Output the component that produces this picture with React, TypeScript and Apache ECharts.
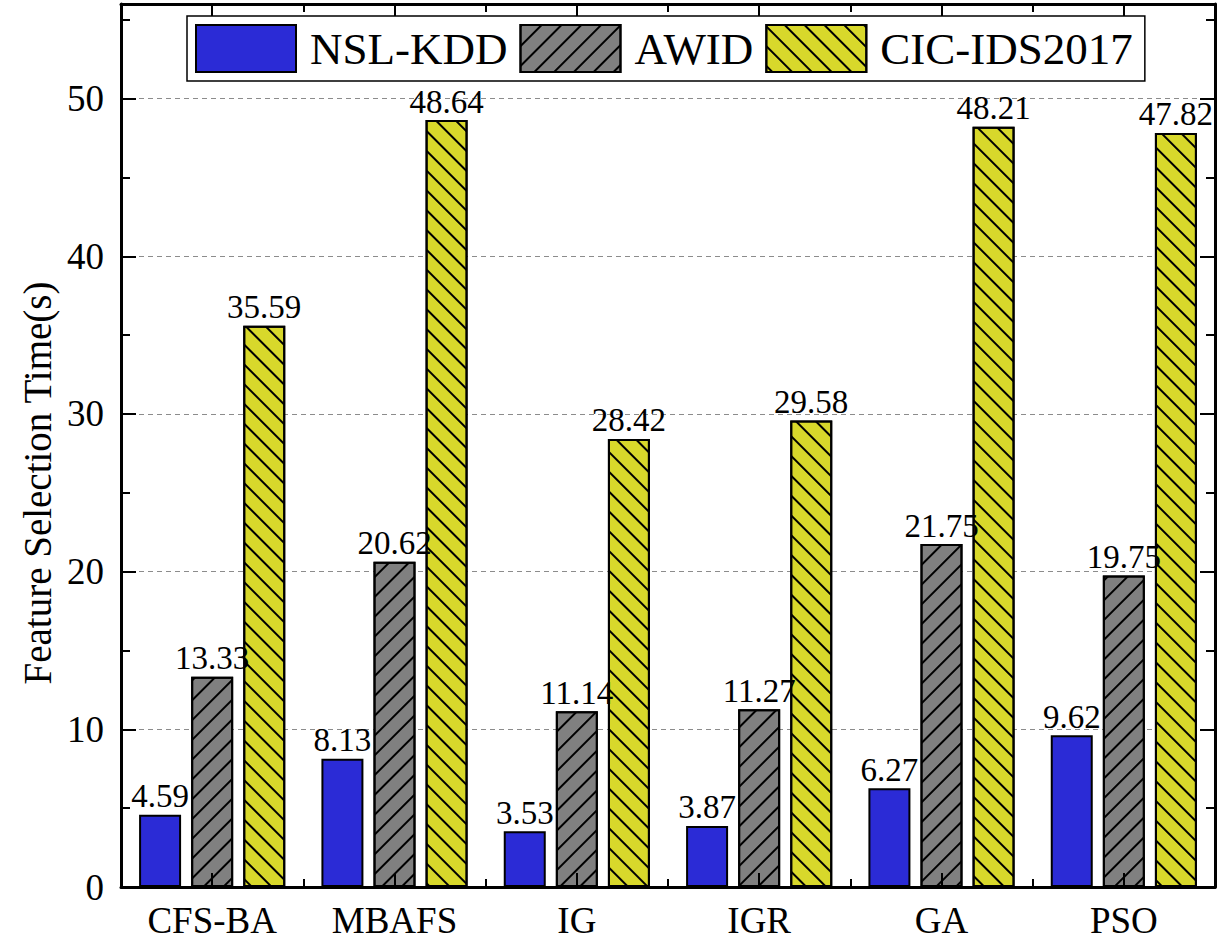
import React, { useEffect, useRef } from "react";
import * as echarts from "echarts";

// Feature selection time per method on three intrusion-detection datasets
const methods = ["CFS-BA", "MBAFS", "IG", "IGR", "GA", "PSO"];
const nslKdd = [4.59, 8.13, 3.53, 3.87, 6.27, 9.62];
const awid = [13.33, 20.62, 11.14, 11.27, 21.75, 19.75];
const cicIds2017 = [35.59, 48.64, 28.42, 29.58, 48.21, 47.82];
const seriesNames = ["NSL-KDD", "AWID", "CIC-IDS2017"];
const yTitle = "Feature Selection Time(s)";

const FONT = '"Liberation Serif", "Times New Roman", serif';

export default function App() {
  const ref = useRef<HTMLDivElement>(null);

  useEffect(() => {
    if (!ref.current) return;
    const chart = echarts.init(ref.current, null, { renderer: "svg" });

    const labelStyle = {
      show: true,
      position: "top" as const,
      distance: 2,
      fontSize: 33,
      fontFamily: FONT,
      color: "#000",
    };

    const hatch = (rotation: number) => ({
      symbol: "rect",
      symbolSize: 1,
      dashArrayX: [1, 0],
      dashArrayY: [1.8, 12],
      rotation,
      color: "#000",
    });

    const bar = (name: string, data: number[], color: string, decal?: any) => ({
      name,
      type: "bar",
      data,
      xAxisIndex: 0,
      yAxisIndex: 0,
      barWidth: 42,
      barGap: "24%",
      itemStyle: {
        color,
        borderColor: "#000",
        borderWidth: 2,
        ...(decal ? { decal } : {}),
      },
      label: labelStyle,
      z: 3,
    });

    const catAxis = (position: "top" | "bottom", centre: boolean, showLine: boolean, showLabel: boolean) => ({
      type: "category",
      data: methods,
      position,
      z: 10,
      axisLine: { show: showLine, onZero: false, lineStyle: { color: "#000", width: 3 } },
      axisTick: centre
        ? { show: true, inside: true, alignWithLabel: true, length: 14, lineStyle: { color: "#000", width: 2 } }
        : { show: true, inside: true, interval: 0, length: 8, lineStyle: { color: "#000", width: 2 } },
      axisLabel: showLabel
        ? { show: true, fontSize: 37, fontFamily: FONT, color: "#000", margin: 15 }
        : { show: false },
      splitLine: { show: false },
    });

    const valAxis = (position: "left" | "right", major: boolean, showLine: boolean, showLabel: boolean, showSplit: boolean) => ({
      type: "value",
      min: 0,
      max: 56,
      interval: major ? 10 : 5,
      position,
      axisLine: { show: showLine, lineStyle: { color: "#000", width: 3 } },
      axisTick: {
        show: true,
        inside: true,
        length: major ? 15 : 9,
        lineStyle: { color: "#000", width: 2 },
      },
      axisLabel: showLabel
        ? {
            show: true,
            showMaxLabel: false,
            fontSize: 37,
            fontFamily: FONT,
            color: "#000",
            margin: 17,
            formatter: (v: number) => (v % 10 === 0 ? String(v) : ""),
          }
        : { show: false },
      splitLine: showSplit
        ? { show: true, lineStyle: { color: "#8c8c8c", width: 1, type: [5, 4] } }
        : { show: false },
    });

    chart.setOption({
      animation: false,
      backgroundColor: "#fff",
      textStyle: { fontFamily: FONT },
      grid: { left: 121, right: 8, top: 4, bottom: 61 },
      legend: {
        data: seriesNames,
        left: 187,
        top: 16,
        orient: "horizontal",
        icon: "rect",
        itemWidth: 100,
        itemHeight: 47,
        itemGap: 12,
        padding: [8, 12, 8, 8],
        backgroundColor: "#fff",
        borderColor: "#000",
        borderWidth: 1.5,
        itemStyle: { borderColor: "#000", borderWidth: 2 },
        textStyle: { fontSize: 45, fontFamily: FONT, color: "#000", padding: [0, 0, 0, 9] },
        z: 20,
      },
      xAxis: [
        catAxis("bottom", true, true, true),
        catAxis("bottom", false, false, false),
        catAxis("top", true, true, false),
        catAxis("top", false, false, false),
      ],
      yAxis: [
        valAxis("left", true, true, true, true),
        valAxis("left", false, false, false, false),
        valAxis("right", true, true, false, false),
        valAxis("right", false, false, false, false),
      ],
      graphic: [
        {
          type: "text",
          x: 37,
          y: 483,
          rotation: Math.PI / 2,
          style: {
            text: yTitle,
            fontSize: 39,
            fontFamily: FONT,
            fill: "#000",
            align: "center",
            verticalAlign: "middle",
          },
        },
      ],
      series: [
        bar(seriesNames[0], nslKdd, "#2b2bd6"),
        bar(seriesNames[1], awid, "#808080", hatch(-Math.PI / 4)),
        bar(seriesNames[2], cicIds2017, "#d8d82b", hatch(Math.PI / 4)),
      ],
    });

    return () => chart.dispose();
  }, []);

  return (
    <div
      ref={ref}
      style={{ position: "absolute", left: 0, top: 0, width: 1223, height: 948 }}
    />
  );
}
